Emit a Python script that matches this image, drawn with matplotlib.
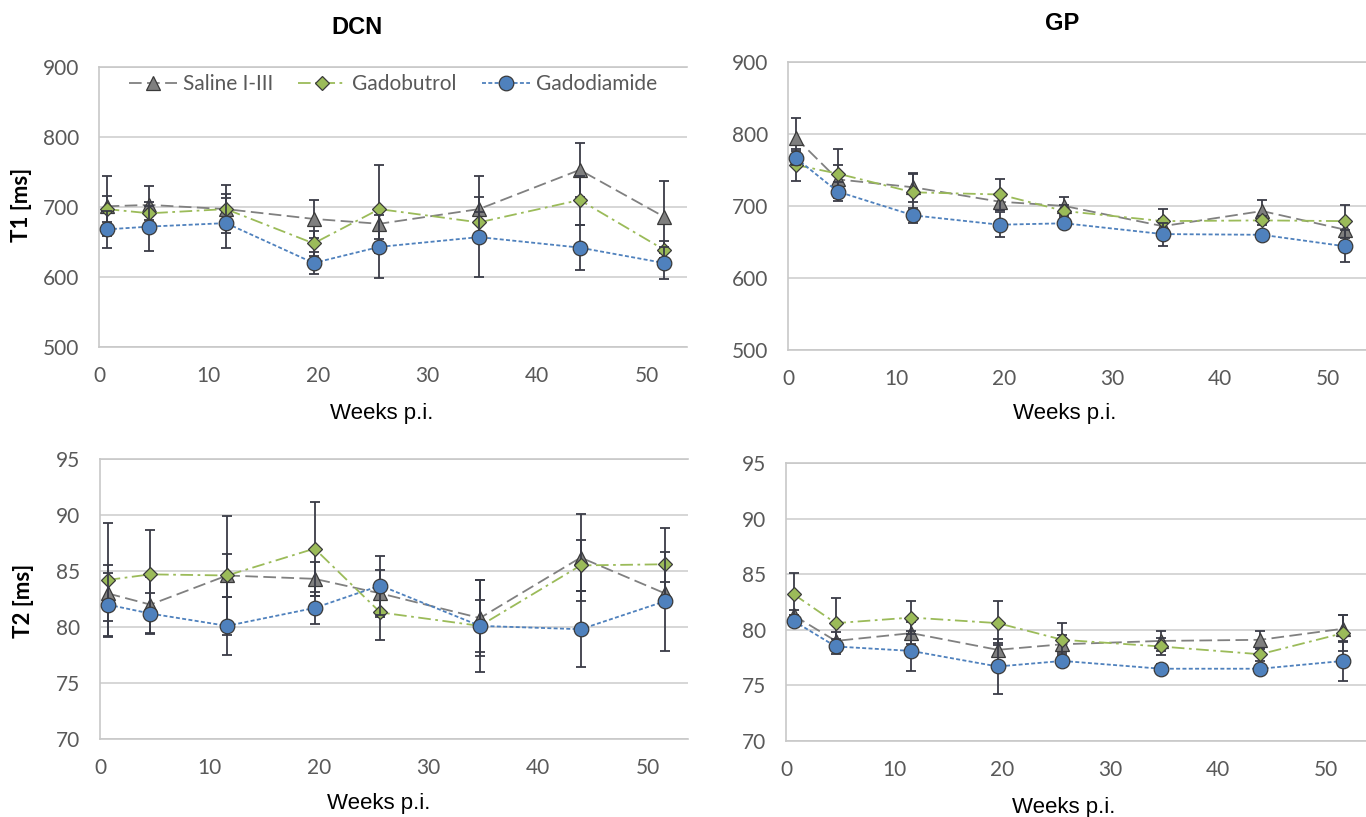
import matplotlib
matplotlib.use("Agg")
import matplotlib.pyplot as plt

# data
weeks = [0.7, 4.6, 11.6, 19.6, 25.6, 34.7, 43.9, 51.6]
groups = ["Saline I-III", "Gadobutrol", "Gadodiamide"]

# T1 DCN
t1_dcn_saline = [701, 703, 697, 683, 676, 697, 753, 686]
t1_dcn_saline_sd = [43, 27, 34, 27, 22, 47, 38, 51]
t1_dcn_butrol = [697, 691, 697, 648, 697, 678, 710, 639]
t1_dcn_butrol_sd = [19, 10, 21, 18, 63, 15, 35, 12]
t1_dcn_diamide = [668, 672, 677, 620, 643, 657, 642, 620]
t1_dcn_diamide_sd = [26, 35, 36, 16, 45, 57, 32, 23]

# T1 GP
t1_gp_saline = [795, 737, 726, 706, 700, 672, 693, 667]
t1_gp_saline_sd = [27, 20, 20, 12, 13, 10, 15, 8]
t1_gp_butrol = [757, 745, 719, 716, 693, 679, 680, 679]
t1_gp_butrol_sd = [22, 34, 25, 22, 8, 17, 6, 23]
t1_gp_diamide = [767, 720, 687, 674, 676, 661, 660, 644]
t1_gp_diamide_sd = [10, 13, 10, 17, 5, 16, 4, 22]

# T2 DCN
t2_dcn_saline = [83.0, 82.0, 84.6, 84.3, 83.0, 80.8, 86.2, 83.0]
t2_dcn_saline_sd = [2.5, 2.5, 5.3, 1.5, 2.1, 3.4, 3.9, 1.0]
t2_dcn_butrol = [84.2, 84.7, 84.6, 87.0, 81.3, 80.1, 85.5, 85.6]
t2_dcn_butrol_sd = [5.1, 4.0, 1.9, 4.2, 2.5, 2.3, 2.3, 3.2]
t2_dcn_diamide = [82.0, 81.2, 80.1, 81.7, 83.7, 80.1, 79.8, 82.3]
t2_dcn_diamide_sd = [2.8, 1.8, 2.6, 1.4, 2.6, 4.1, 3.4, 4.4]

# T2 GP
t2_gp_saline = [81.3, 79.0, 79.7, 78.2, 78.7, 79.0, 79.1, 80.1]
t2_gp_saline_sd = [0.5, 0.8, 1.0, 0.6, 0.8, 0.9, 0.8, 1.2]
t2_gp_butrol = [83.2, 80.6, 81.1, 80.6, 79.1, 78.5, 77.8, 79.7]
t2_gp_butrol_sd = [1.9, 2.3, 1.5, 2.0, 1.5, 0.8, 0.6, 1.6]
t2_gp_diamide = [80.8, 78.5, 78.1, 76.7, 77.2, 76.5, 76.5, 77.2]
t2_gp_diamide_sd = [0.5, 0.7, 1.8, 2.5, 0.5, 0.4, 0.3, 1.8]

W, H = 1366, 817
fig = plt.figure(figsize=(W / 100, H / 100), dpi=100)


def box(left, top, right, bottom):
    return [left / W, 1 - bottom / H, (right - left) / W, (bottom - top) / H]


ax_t1_dcn = fig.add_axes(box(99, 67, 687, 347))
ax_t1_gp = fig.add_axes(box(788, 62, 1368, 350))
ax_t2_dcn = fig.add_axes(box(100, 459, 688, 739))
ax_t2_gp = fig.add_axes(box(786, 463, 1366, 741))

styles = [
    dict(color="#808080", dashes=(7, 3), marker="^", ms=10, mfc="#7f7f7f"),
    dict(color="#9bbb59", dashes=(7, 2.5, 1.5, 2.5), marker="D", ms=7.5, mfc="#9bbb59"),
    dict(color="#4f81bd", dashes=(2.2, 1.3), marker="o", ms=10.5, mfc="#4f81bd"),
]

panels = [
    (ax_t1_dcn, [t1_dcn_saline, t1_dcn_butrol, t1_dcn_diamide],
     [t1_dcn_saline_sd, t1_dcn_butrol_sd, t1_dcn_diamide_sd], (500, 900), 100),
    (ax_t1_gp, [t1_gp_saline, t1_gp_butrol, t1_gp_diamide],
     [t1_gp_saline_sd, t1_gp_butrol_sd, t1_gp_diamide_sd], (500, 900), 100),
    (ax_t2_dcn, [t2_dcn_saline, t2_dcn_butrol, t2_dcn_diamide],
     [t2_dcn_saline_sd, t2_dcn_butrol_sd, t2_dcn_diamide_sd], (70, 95), 5),
    (ax_t2_gp, [t2_gp_saline, t2_gp_butrol, t2_gp_diamide],
     [t2_gp_saline_sd, t2_gp_butrol_sd, t2_gp_diamide_sd], (70, 95), 5),
]

for ax, series, sds, ylim, step in panels:
    for i in range(3):
        st = styles[i]
        ax.errorbar(weeks, series[i], yerr=sds[i], fmt="none", ecolor="#3a3c47",
                    elinewidth=1.3, capsize=3.5, capthick=1.3, zorder=3 + 2 * i)
        ax.plot(weeks, series[i], color=st["color"], lw=1.3, dashes=st["dashes"],
                marker=st["marker"], ms=st["ms"], mfc=st["mfc"], mec="#3a3a3a",
                mew=0.9, label=groups[i], zorder=4 + 2 * i, clip_on=False)
    ax.set_xlim(0, 53.7)
    ax.set_ylim(*ylim)
    ax.set_xticks(range(0, 51, 10))
    ax.set_yticks(range(ylim[0], ylim[1] + 1, step))
    ax.grid(axis="y", color="#d0d0d0", lw=1.2)
    ax.set_axisbelow(True)
    ax.spines["right"].set_visible(False)
    for s in ["left", "bottom", "top"]:
        ax.spines[s].set_color("#c8c8c8")
        ax.spines[s].set_linewidth(1.2)
    ax.tick_params(length=0, labelsize=15, labelcolor="#595959", pad=14)
    for lab in ax.get_xticklabels() + ax.get_yticklabels():
        lab.set_family("Lato")

# legend in the first panel
leg = ax_t1_dcn.legend(loc="upper center", bbox_to_anchor=(0.5, 1.005), ncol=3,
                       frameon=False, prop={"family": "Lato", "size": 15},
                       handlelength=2.3, handletextpad=0.3, columnspacing=1.2,
                       borderaxespad=0)
for t in leg.get_texts():
    t.set_color("#595959")


def ftxt(x, y, s, **kw):
    fig.text(x / W, 1 - y / H, s, ha="center", va="center", **kw)


ftxt(357, 28, "DCN", family="Liberation Sans", weight="bold", size=17)
ftxt(1062, 23, "GP", family="Liberation Sans", weight="bold", size=17)
ftxt(382, 413, "Weeks p.i.", family="Liberation Sans", size=16)
ftxt(1065, 414, "Weeks p.i.", family="Liberation Sans", size=16)
ftxt(379, 803, "Weeks p.i.", family="Liberation Sans", size=16)
ftxt(1064, 807, "Weeks p.i.", family="Liberation Sans", size=16)
ftxt(22, 205, "T1 [ms]", family="Lato", weight="bold", size=16, rotation=90)
ftxt(24, 601, "T2 [ms]", family="Lato", weight="bold", size=16, rotation=90)

plt.savefig("out.png", dpi=100)
